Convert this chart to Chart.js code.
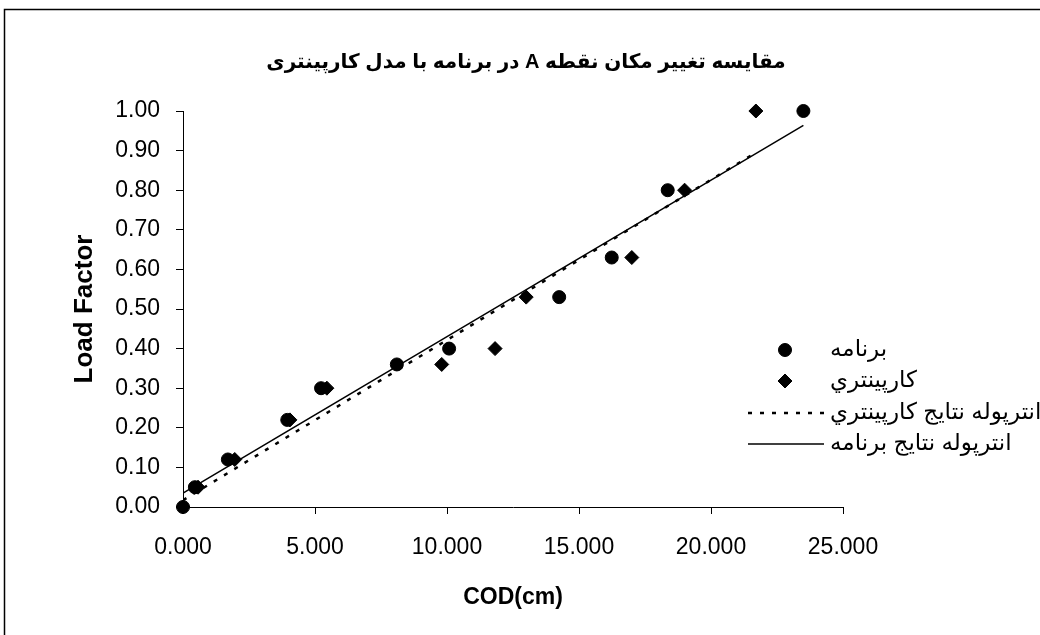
<!DOCTYPE html>
<html>
<head>
<meta charset="utf-8">
<script src="https://cdn.jsdelivr.net/npm/chart.js@4.4.1/dist/chart.umd.min.js"></script>
<style>
  html, body { margin: 0; padding: 0; background: #fff; }
</style>
</head>
<body>
<canvas id="chart" width="1040" height="635"></canvas>
<script>
// values
const programX = [0, 0.45, 1.7, 3.95, 5.23, 8.1, 10.08, 14.25, 16.24, 18.36, 23.5];
const programY = [0, 0.05, 0.12, 0.22, 0.30, 0.36, 0.40, 0.53, 0.63, 0.80, 1.00];
const carpX = [0, 0.57, 1.96, 4.05, 5.45, 9.8, 11.82, 13.0, 17.0, 19.0, 21.7];
const carpY = [0, 0.05, 0.12, 0.22, 0.30, 0.36, 0.40, 0.53, 0.63, 0.80, 1.00];

const seriesNames = ["برنامه", "کارپينتري", "انترپوله نتايج کارپينتري", "انترپوله نتايج برنامه"];
// RLE ... PDF so the Latin "A" stays inside the right-to-left sentence
const chartTitle = "\u202B" + "مقایسه تغییر مکان نقطه A در برنامه با مدل کارپینتری" + "\u202C";
const xTitle = "COD(cm)";
const yTitle = "Load Factor";
const xRange = [0, 25], xStep = 5;
const yRange = [0, 1], yStep = 0.1;

const FONT = "'Liberation Sans', 'DejaVu Sans', sans-serif";
Chart.defaults.font.family = FONT;
Chart.defaults.color = "#000";

// linear trendline like Excel, over the series x range
function trendLine(xs, ys) {
  const n = xs.length;
  const mx = xs.reduce((a, b) => a + b, 0) / n;
  const my = ys.reduce((a, b) => a + b, 0) / n;
  let sxy = 0, sxx = 0;
  xs.forEach((x, i) => {
    sxy += (x - mx) * (ys[i] - my);
    sxx += (x - mx) * (x - mx);
  });
  const slope = sxy / sxx;
  const icpt = my - slope * mx;
  const x0 = Math.min(...xs), x1 = Math.max(...xs);
  return [{ x: x0, y: icpt + slope * x0 }, { x: x1, y: icpt + slope * x1 }];
}

function points(xs, ys) {
  return xs.map((x, i) => ({ x: x, y: ys[i] }));
}

// white page, the cut-off outer frame and the title (centred on the page, not the plot)
const framePlugin = {
  id: "frame",
  beforeDraw(chart) {
    const ctx = chart.ctx;
    ctx.save();
    ctx.fillStyle = "#fff";
    ctx.fillRect(0, 0, chart.width, chart.height);
    ctx.strokeStyle = "#000";
    ctx.lineWidth = 1.5;
    ctx.strokeRect(4.5, 9.5, chart.width + 50, chart.height + 50);
    ctx.font = "bold 20px " + FONT;
    ctx.fillStyle = "#000";
    ctx.textAlign = "center";
    ctx.textBaseline = "middle";
    ctx.fillText(chartTitle, 526, 62);
    ctx.restore();
  }
};

// legend drawn by hand: it floats over the right part of the plot
const legendPlugin = {
  id: "sideLegend",
  afterDraw(chart) {
    const ctx = chart.ctx;
    const area = chart.chartArea;
    const left = area.right - 95;
    const rows = [350, 381, 413, 444];
    ctx.save();
    ctx.font = "23px " + FONT;
    ctx.fillStyle = "#000";
    ctx.textAlign = "left";
    ctx.textBaseline = "middle";
    chart.data.datasets.forEach((ds, i) => {
      const y = rows[i];
      if (ds.showLine) {
        ctx.beginPath();
        ctx.strokeStyle = ds.borderColor;
        ctx.lineWidth = ds.borderWidth;
        ctx.setLineDash(ds.borderDash || []);
        ctx.moveTo(left, y);
        ctx.lineTo(left + 76, y);
        ctx.stroke();
        ctx.setLineDash([]);
      } else {
        ctx.fillStyle = ds.backgroundColor;
        ctx.strokeStyle = ds.borderColor;
        Chart.helpers.drawPoint(ctx, { pointStyle: ds.pointStyle, radius: ds.pointRadius, rotation: 0, borderWidth: 1 }, left + 37, y);
        ctx.fillStyle = "#000";
      }
      ctx.fillText(ds.label, left + 82, y);
    });
    ctx.restore();
  }
};

new Chart(document.getElementById("chart"), {
  type: "scatter",
  data: {
    datasets: [
      {
        label: seriesNames[0],
        data: points(programX, programY),
        pointStyle: "circle",
        pointRadius: 6.5,
        backgroundColor: "#000",
        borderColor: "#000",
        borderWidth: 1,
        clip: false
      },
      {
        label: seriesNames[1],
        data: points(carpX, carpY),
        pointStyle: "rectRot",
        pointRadius: 7,
        backgroundColor: "#000",
        borderColor: "#000",
        borderWidth: 1,
        clip: false
      },
      {
        label: seriesNames[2],
        data: trendLine(carpX, carpY),
        showLine: true,
        borderColor: "#000",
        borderWidth: 2.5,
        borderDash: [4, 8],
        pointRadius: 0
      },
      {
        label: seriesNames[3],
        data: trendLine(programX, programY),
        showLine: true,
        borderColor: "#000",
        borderWidth: 1.5,
        pointRadius: 0
      }
    ]
  },
  options: {
    responsive: false,
    animation: false,
    layout: { padding: { left: 0, right: 197, top: 111, bottom: 0 } },
    plugins: {
      legend: { display: false },
      tooltip: { enabled: false },
      title: { display: false }
    },
    scales: {
      x: {
        type: "linear",
        min: xRange[0],
        max: xRange[1],
        ticks: {
          stepSize: xStep,
          maxRotation: 0,
          padding: 20,
          font: { size: 23 },
          callback: (v) => v.toFixed(3)
        },
        grid: { drawOnChartArea: false, tickLength: 7, color: "#000" },
        border: { color: "#000", width: 1 },
        title: {
          display: true,
          text: xTitle,
          font: { size: 23, weight: "bold" },
          padding: { top: 0, bottom: 24 }
        },
        afterFit: (scale) => { scale.height = 128; }
      },
      y: {
        type: "linear",
        min: yRange[0],
        max: yRange[1],
        ticks: {
          stepSize: yStep,
          padding: 16,
          font: { size: 23 },
          callback: (v) => v.toFixed(2)
        },
        grid: { drawOnChartArea: false, tickLength: 7, color: "#000" },
        border: { color: "#000", width: 1 },
        title: {
          display: true,
          text: yTitle,
          font: { size: 26, weight: "bold" },
          padding: { top: 69, bottom: 0 }
        },
        afterFit: (scale) => { scale.width = 183; }
      }
    }
  },
  plugins: [framePlugin, legendPlugin]
});
</script>
</body>
</html>
